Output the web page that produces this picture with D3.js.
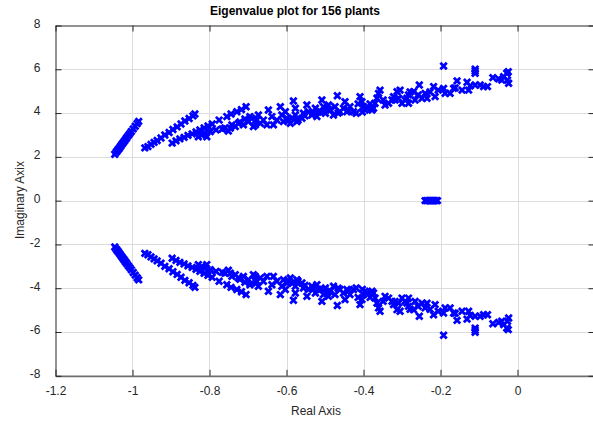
<!DOCTYPE html>
<html>
<head>
<meta charset="utf-8">
<script src="https://cdn.jsdelivr.net/npm/d3@7"></script>
<style>
  body { margin: 0; background: #fff; }
  text { font-family: "Liberation Sans", Arial, sans-serif; }
</style>
</head>
<body>
<div id="chart"></div>
<script>
// eigenvalues with positive imaginary part, [real, imag]; conjugates are drawn mirrored
const steepBranch = [
  [-1.046, 2.12], [-1.042, 2.22], [-1.039, 2.29], [-1.036, 2.36], [-1.033, 2.43],
  [-1.030, 2.51], [-1.027, 2.58], [-1.024, 2.65], [-1.021, 2.72], [-1.018, 2.80],
  [-1.015, 2.87], [-1.011, 2.97], [-1.007, 3.06], [-1.003, 3.16], [-0.998, 3.28],
  [-0.993, 3.40], [-0.988, 3.52], [-0.984, 3.62]
];
const upperBranch = [
  [-0.968, 2.41], [-0.960, 2.47], [-0.952, 2.57], [-0.944, 2.66], [-0.936, 2.75],
  [-0.926, 2.86], [-0.916, 3.00], [-0.905, 3.11], [-0.895, 3.25], [-0.884, 3.37],
  [-0.874, 3.50], [-0.864, 3.64], [-0.853, 3.75], [-0.843, 3.87], [-0.838, 3.96]
];
const middleBranch = [
  [-0.897, 2.63], [-0.887, 2.73], [-0.877, 2.82], [-0.866, 2.89], [-0.856, 2.98],
  [-0.845, 3.05], [-0.835, 3.14], [-0.825, 3.23], [-0.814, 3.32], [-0.804, 3.41],
  [-0.793, 3.50], [-0.775, 3.68], [-0.755, 3.84], [-0.744, 3.96], [-0.729, 4.06],
  [-0.717, 4.16], [-0.705, 4.29]
];
const bandPoints = [
  [-0.829, 2.92], [-0.820, 3.00], [-0.811, 3.08], [-0.807, 2.92], [-0.798, 3.15],
  [-0.783, 3.23], [-0.767, 3.27], [-0.760, 3.32], [-0.751, 3.18], [-0.746, 3.31],
  [-0.742, 3.46], [-0.733, 3.38], [-0.725, 3.53], [-0.721, 3.59], [-0.712, 3.46],
  [-0.708, 3.73], [-0.699, 3.61], [-0.695, 3.84], [-0.690, 3.76], [-0.686, 3.38],
  [-0.681, 3.46], [-0.677, 3.68], [-0.673, 3.91], [-0.668, 3.53], [-0.660, 3.68],
  [-0.651, 3.46], [-0.647, 4.14], [-0.638, 3.84], [-0.634, 3.46], [-0.625, 3.68],
  [-0.616, 4.29], [-0.612, 3.91], [-0.608, 3.61], [-0.603, 4.06], [-0.599, 3.76],
  [-0.594, 3.68], [-0.590, 3.53], [-0.585, 3.78], [-0.582, 4.55], [-0.577, 4.22],
  [-0.577, 3.91], [-0.573, 3.61], [-0.570, 3.68], [-0.560, 3.76], [-0.556, 3.99],
  [-0.552, 3.87], [-0.547, 4.37], [-0.543, 4.06], [-0.534, 3.91], [-0.531, 4.00],
  [-0.525, 4.22], [-0.521, 3.84], [-0.518, 4.05], [-0.512, 4.06], [-0.508, 4.60],
  [-0.504, 4.29], [-0.499, 3.99], [-0.495, 4.19], [-0.491, 4.37], [-0.486, 4.14],
  [-0.478, 3.91], [-0.474, 4.29], [-0.468, 4.79], [-0.466, 4.00], [-0.461, 4.06],
  [-0.452, 4.22], [-0.448, 4.52], [-0.443, 4.06], [-0.440, 4.14], [-0.435, 4.29],
  [-0.426, 4.06], [-0.419, 3.99], [-0.414, 4.42], [-0.409, 4.75], [-0.404, 4.52],
  [-0.403, 4.05], [-0.400, 4.29], [-0.396, 4.14], [-0.391, 4.22], [-0.383, 4.42],
  [-0.378, 4.14], [-0.374, 4.22], [-0.370, 4.45], [-0.365, 4.68], [-0.361, 4.90],
  [-0.357, 5.05], [-0.349, 4.60], [-0.344, 4.37], [-0.335, 4.45], [-0.326, 4.60],
  [-0.322, 4.75], [-0.318, 4.60], [-0.313, 4.98], [-0.309, 4.68], [-0.305, 5.05],
  [-0.300, 4.45], [-0.292, 4.60], [-0.287, 4.68], [-0.283, 4.83], [-0.283, 4.45],
  [-0.279, 4.96], [-0.270, 4.98], [-0.266, 4.60], [-0.258, 4.83], [-0.255, 5.28],
  [-0.248, 4.68], [-0.240, 4.90], [-0.235, 4.68], [-0.227, 4.96], [-0.218, 5.21],
  [-0.214, 4.75], [-0.206, 5.05], [-0.192, 6.15], [-0.192, 5.13], [-0.188, 4.90],
  [-0.175, 4.90], [-0.166, 5.13], [-0.162, 5.15], [-0.157, 5.47], [-0.144, 5.05],
  [-0.131, 5.41], [-0.127, 5.05], [-0.123, 5.24], [-0.110, 6.01], [-0.110, 5.92],
  [-0.110, 5.82], [-0.110, 5.28], [-0.097, 5.28], [-0.088, 5.21], [-0.078, 5.21],
  [-0.064, 5.62], [-0.049, 5.56], [-0.041, 5.51], [-0.036, 5.66], [-0.028, 5.82],
  [-0.026, 5.51], [-0.024, 5.89], [-0.023, 5.36]
];
// purely real eigenvalues
const realRoots = [-0.240, -0.236, -0.232, -0.228, -0.225, -0.222, -0.219, -0.216, -0.212, -0.208];

const xTicks = [-1.2, -1, -0.8, -0.6, -0.4, -0.2, 0];
const yTicks = [-8, -6, -4, -2, 0, 2, 4, 6, 8];

const width = 593, height = 421;
const margin = { top: 25.5, left: 55.5, bottom: 375.8 };

const svg = d3.select("#chart").append("svg")
  .attr("width", width)
  .attr("height", height)
  .style("display", "block");

svg.append("rect").attr("width", width).attr("height", height).attr("fill", "#fff");

const xScale = d3.scaleLinear().domain([-1.2, 0.2]).range([margin.left, margin.left + 1.4 * 385]);
const yScale = d3.scaleLinear().domain([-8, 8]).range([margin.bottom, margin.top]);

// grid
const grid = svg.append("g").attr("stroke", "#dcdcdc").attr("stroke-width", 1);
grid.selectAll(".gx").data(xTicks.slice(1)).enter().append("line")
  .attr("x1", d => Math.round(xScale(d)) + 0.5).attr("x2", d => Math.round(xScale(d)) + 0.5)
  .attr("y1", yScale(8)).attr("y2", yScale(-8));
grid.selectAll(".gy").data(yTicks.slice(1, -1)).enter().append("line")
  .attr("x1", xScale(-1.2)).attr("x2", xScale(0.2))
  .attr("y1", d => Math.round(yScale(d)) + 0.5).attr("y2", d => Math.round(yScale(d)) + 0.5);

// points
const upper = steepBranch.concat(upperBranch, middleBranch, bandPoints);
const allPoints = upper.concat(upper.map(d => [d[0], -d[1]]), realRoots.map(r => [r, 0]));

const mk = 3.2;
svg.append("g").selectAll("path").data(allPoints).enter().append("path")
  .attr("transform", d => `translate(${xScale(d[0])},${yScale(d[1])})`)
  .attr("d", `M${-mk},${-mk}L${mk},${mk}M${-mk},${mk}L${mk},${-mk}`)
  .attr("stroke", "#0000ff")
  .attr("stroke-width", 2.8)
  .attr("fill", "none");

// axes
const axisColor = "#262626";
const fmt = d => d3.format("")(d).replace("−", "-");

const xAxis = svg.append("g").attr("transform", `translate(0,${margin.bottom})`)
  .call(d3.axisBottom(xScale).tickValues(xTicks).tickSizeInner(-6).tickSizeOuter(0).tickPadding(11).tickFormat(fmt));
xAxis.select(".domain").attr("stroke", "#6e6e6e").attr("stroke-width", 1.8);
xAxis.selectAll(".tick line").attr("stroke", axisColor);
xAxis.selectAll("text").attr("fill", axisColor).attr("font-size", 12);

const xTop = svg.append("g").attr("transform", `translate(0,${margin.top})`)
  .call(d3.axisTop(xScale).tickValues(xTicks).tickSizeInner(-6).tickSizeOuter(0).tickFormat(""));
xTop.select(".domain").attr("stroke", axisColor);
xTop.selectAll(".tick line").attr("stroke", axisColor);

const yAxis = svg.append("g").attr("transform", `translate(${margin.left},0)`)
  .call(d3.axisLeft(yScale).tickValues(yTicks).tickSizeInner(-6).tickSizeOuter(0).tickPadding(15).tickFormat(fmt));
yAxis.select(".domain").attr("stroke", axisColor);
yAxis.selectAll(".tick line").attr("stroke", axisColor);
yAxis.selectAll("text").attr("fill", axisColor).attr("font-size", 12).attr("dy", "0.15em");

const yRight = svg.append("g").attr("transform", `translate(${xScale(0.2)},0)`)
  .call(d3.axisRight(yScale).tickValues(yTicks).tickSizeInner(-6).tickSizeOuter(0).tickFormat(""));
yRight.select(".domain").attr("stroke", axisColor);
yRight.selectAll(".tick line").attr("stroke", axisColor);

// labels
svg.append("text").attr("x", 295).attr("y", 15)
  .attr("text-anchor", "middle").attr("font-size", 12).attr("font-weight", "bold")
  .attr("fill", "#000").text("Eigenvalue plot for 156 plants");

svg.append("text").attr("x", 316).attr("y", 415)
  .attr("text-anchor", "middle").attr("font-size", 12).attr("fill", axisColor)
  .text("Real Axis");

svg.append("text").attr("transform", "translate(24,200) rotate(-90)")
  .attr("text-anchor", "middle").attr("font-size", 12).attr("fill", axisColor)
  .text("Imaginary Axix");
</script>
</body>
</html>
